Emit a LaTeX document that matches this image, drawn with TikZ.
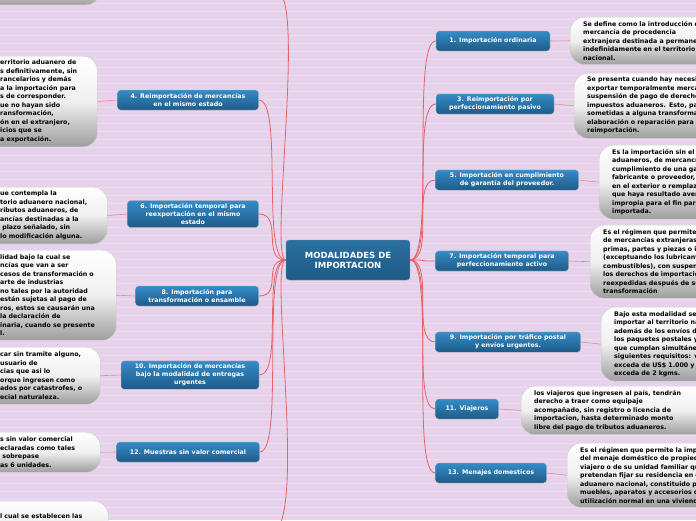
\documentclass[tikz,border=0pt]{standalone}
\usepackage{fontspec}
\setmainfont{DejaVu Sans}
\usetikzlibrary{calc}
\definecolor{bgc}{RGB}{230,210,234}
\definecolor{bgl}{RGB}{236,220,238}
\definecolor{btop}{RGB}{52,140,200}
\definecolor{bbot}{RGB}{30,90,135}
\definecolor{conc}{RGB}{228,100,100}
\definecolor{lnkc}{RGB}{235,140,140}
\begin{document}
\begin{tikzpicture}[x=1pt,y=-1pt,
  bx/.style={draw=black!25,rounded corners=3pt,top color=btop,bottom color=bbot,
    text=white,font=\fontsize{6.3}{8}\selectfont\bfseries,align=center,inner xsep=5pt,inner ysep=3pt,minimum height=20pt},
  bub/.style={draw=black!20,rounded corners=14pt,top color=white,bottom color=black!38,middle color=black!6,
    font=\fontsize{6.3}{8.5}\selectfont\bfseries,align=left,inner ysep=4pt},
  con/.style={draw=conc,line width=0.8pt},
  lnk/.style={draw=lnkc,line width=0.6pt}]
\useasboundingbox (0,0) rectangle (696,520);
\clip (0,0) rectangle (696,520);
\fill[bgc] (0,0) rectangle (696,520);
\foreach \yy in {3,11,...,520} \draw[bgl,line width=0.5pt] (0,\yy) -- (696,\yy);
% centre
\node[draw=black!40,rounded corners=3pt,top color=btop!80!black,bottom color=bbot,text=white,
  font=\fontsize{8.5}{10}\selectfont\bfseries,align=center,minimum width=124pt,minimum height=40pt] (c) at (348,260) {MODALIDADES DE\\IMPORTACION};
% right boxes
\node[bx,minimum width=114pt] (b1) at (493,41) {1. Importación ordinaria};
\node[bx,minimum width=118pt] (b3) at (495,104) {3. Reimportación por\\perfeccionamiento pasivo};
\node[bx,minimum width=143pt] (b5) at (507,180) {5. Importación en cumplimiento\\de garantía del proveedor.};
\node[bx,minimum width=133pt] (b7) at (502,261) {7. Importación temporal para\\perfeccionamiento activo};
\node[bx,minimum width=145pt] (b9) at (508,342) {9. Importación por tráfico postal\\y envíos urgentes.};
\node[bx,minimum width=63pt] (b11) at (467,409) {11. Viajeros};
\node[bx,minimum width=111pt] (b13) at (491,473) {13. Menajes domesticos};
% left boxes
\node[bx,minimum width=141pt] (b4) at (188,100) {4. Reimportación de mercancías\\en el mismo estado};
\node[bx,minimum width=131pt] (b6) at (193,214) {6. Importación temporal para\\reexportación en el mismo\\estado};
\node[bx,minimum width=123pt] (b8) at (197,296) {8. Importación para\\transformación o ensamble};
\node[bx,minimum width=138pt] (b10) at (190,375) {10. Importación de mercancías\\bajo la modalidad de entregas\\urgentes};
\node[bx,minimum width=143pt] (b12) at (188,452) {12. Muestras sin valor comercial};
% right bubbles
\node[bub,anchor=north west,minimum height=46pt,inner xsep=13pt,text width=180pt] (t1) at (570,17) {Se define como la introducción de\\mercancía de procedencia\\extranjera destinada a permanecer\\indefinidamente en el territorio aduanero\\nacional.};
\node[bub,anchor=north west,minimum height=64pt,inner xsep=13pt,text width=180pt] (t3) at (574,73) {Se presenta cuando hay necesidad de\\exportar temporalmente mercancías con\\suspensión de pago de derechos e\\impuestos aduaneros. Esto, para ser\\sometidas a alguna transformación,\\elaboración o reparación para su\\reimportación.};
\node[bub,anchor=north west,minimum height=72pt,inner xsep=13pt,text width=180pt] (t5) at (599,145) {Es la importación sin el pago de tributos\\aduaneros, de mercancías en\\cumplimiento de una garantía del\\fabricante o proveedor, ya sea reparada\\en el exterior o remplazada por otra\\que haya resultado averiada, defectuosa\\impropia para el fin para el cual fue\\importada.};
\node[bub,anchor=north west,minimum height=73pt,inner xsep=13pt,text width=180pt] (t7) at (590,225) {Es el régimen que permite recibir\\de mercancías extranjeras, materias\\primas, partes y piezas o insumos\\(exceptuando los lubricantes y\\combustibles), con suspensión de\\los derechos de importación, para ser\\reexpedidas después de su\\transformación};
\node[bub,anchor=north west,minimum height=71pt,inner xsep=13pt,text width=180pt] (t9) at (601,307) {Bajo esta modalidad se podrán\\importar al territorio nacional,\\además de los envíos de correspondencia,\\los paquetes postales y envíos urgentes\\que cumplan simultáneamente los\\siguientes requisitos: valor no\\exceda de US\$ 1.000 y peso no\\exceda de 2 kgms.};
\node[bub,anchor=north west,minimum height=48pt,inner xsep=13pt,text width=180pt] (t11) at (521,386) {los viajeros que ingresen al país, tendrán\\derecho a traer como equipaje\\acompañado, sin registro o licencia de\\importacion, hasta determinado monto\\libre del pago de tributos aduaneros.};
\node[bub,anchor=north west,minimum height=63pt,inner xsep=13pt,text width=180pt] (t13) at (567,443) {Es el régimen que permite la importación\\del menaje doméstico de propiedad del\\viajero o de su unidad familiar que\\pretendan fijar su residencia en el territorio\\aduanero nacional, constituido por\\muebles, aparatos y accesorios de\\utilización normal en una vivienda.};
% left bubbles (text clipped at the left edge)
\node[bub,anchor=north west,minimum height=90pt,inner xsep=0pt,text width=127pt] (t4) at (-30,56) {\hspace*{30pt}erritorio aduanero de\\\hspace*{30pt}s definitivamente, sin\\\hspace*{30pt}rancelarios y demás\\\hspace*{30pt}a la importación para\\\hspace*{30pt}s de corresponder.\\\hspace*{30pt}ue no hayan sido\\\hspace*{30pt}ransformación,\\\hspace*{30pt}ón en el extranjero,\\\hspace*{30pt}icios que se\\\hspace*{30pt}a exportación.};
\node[bub,anchor=north west,minimum height=55pt,inner xsep=0pt,text width=137pt] (t6) at (-30,187) {\hspace*{30pt}ue contempla la\\\hspace*{30pt}torio aduanero nacional,\\\hspace*{30pt}ributos aduaneros, de\\\hspace*{30pt}ancías destinadas a la\\\hspace*{30pt} plazo señalado, sin\\\hspace*{30pt}lo modificación alguna.};
\node[bub,anchor=north west,minimum height=90pt,inner xsep=0pt,text width=146pt] (t8) at (-30,250) {\hspace*{30pt}lidad bajo la cual se\\\hspace*{30pt}ncías que van a ser\\\hspace*{30pt}cesos de transformación o\\\hspace*{30pt}arte de industrias\\\hspace*{30pt}no tales por la autoridad\\\hspace*{30pt}están sujetas al pago de\\\hspace*{30pt}ros, estos se causarán una\\\hspace*{30pt}la declaración de\\\hspace*{30pt}inaria, cuando se presente\\\hspace*{30pt}l.};
\node[bub,anchor=north west,minimum height=57pt,inner xsep=0pt,text width=130pt] (t10) at (-30,347) {\hspace*{30pt}car sin tramite alguno,\\\hspace*{30pt}usuario de\\\hspace*{30pt}cias que asi lo\\\hspace*{30pt}orque ingresen como\\\hspace*{30pt}ados por catastrofes, o\\\hspace*{30pt}ecial naturaleza.};
\node[bub,anchor=north west,minimum height=40pt,inner xsep=0pt,text width=130pt] (t12) at (-30,432) {\hspace*{30pt}s sin valor comercial\\\hspace*{30pt}eclaradas como tales\\\hspace*{30pt} sobrepase\\\hspace*{30pt}as 6 unidades.};
\node[bub,anchor=south west,minimum height=40pt,inner xsep=0pt,text width=130pt] (t0) at (-30,5) {\hspace*{30pt}\\\hspace*{30pt}nsagra el beneficio.};
\node[bub,anchor=north west,minimum height=40pt,inner xsep=0pt,text width=138pt] (t14) at (-30,501) {\hspace*{30pt}l cual se establecen las\\\hspace*{30pt}a la importación de};
% connectors
\foreach \b in {b1,b3,b5,b7,b9,b11,b13}
  \draw[con] (c.east) .. controls ($(c.east)+(25,0)$) and ($(\b.west)+(-25,0)$) .. (\b.west);
\foreach \b in {b4,b6,b8,b10,b12}
  \draw[con] (c.west) .. controls ($(c.west)+(-25,0)$) and ($(\b.east)+(25,0)$) .. (\b.east);
\coordinate (top) at (283,-2);
\coordinate (bot) at (281,522);
\draw[con] (c.west) .. controls (270,260) and (300,40) .. (top);
\draw[con] (c.west) .. controls (270,260) and (300,470) .. (bot);
\foreach \b/\t in {b1/t1,b3/t3,b5/t5,b7/t7,b9/t9,b11/t11,b13/t13}
  \draw[lnk] (\b.east) -- (\t.west);
\foreach \b/\t in {b4/t4,b6/t6,b8/t8,b10/t10,b12/t12}
  \draw[lnk] (\b.west) -- (\t.east);
\end{tikzpicture}
\end{document}
